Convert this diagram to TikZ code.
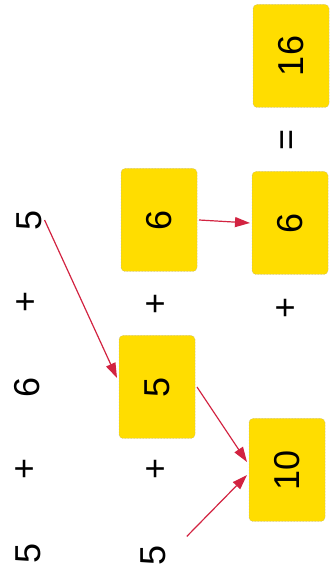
\documentclass[tikz,border=0pt]{standalone}
\usepackage{fontspec}
\setmainfont{Liberation Sans}
\usetikzlibrary{arrows.meta}
\definecolor{cardyellow}{RGB}{255,221,0}
\definecolor{cardedge}{RGB}{185,175,140}
\definecolor{arrred}{RGB}{210,35,65}

\begin{document}
\begin{tikzpicture}[x=1pt, y=1pt,
      every node/.style={font=\fontsize{36}{42}\selectfont, rotate=90},
      card/.style={rectangle, rounded corners=4pt, draw=cardedge, densely dotted,
                   line width=0.5pt, fill=cardyellow, minimum width=103pt,
                   minimum height=76pt, inner sep=0pt, outer sep=2pt},
      num/.style={inner sep=0pt, outer sep=3pt},
      ar/.style={arrred, line width=1.2pt, -{Triangle[length=15pt, width=10pt]}}
    ]
    \useasboundingbox (0,0) rectangle (329,572);
    % first row: 5 + 6 + 5
    \node[num] (n5a) at (29, 352) {5};
    \node[num] (p1) at (27, 270) {+};
    \node[num] (n6) at (27, 185) {6};
    \node[num] (p2) at (26, 103) {+};
    \node[num] (n5b) at (28, 19) {5};
    % second row: 6 + 5 + 5
    \node[card] (c6a) at (159, 352) {6};
    \node[num] (p3) at (157, 268) {+};
    \node[card] (c5) at (157, 185) {5};
    \node[num] (p4) at (157, 103) {+};
    \node[num] (n5c) at (153, 17) {5};
    % third row: 16 = 6 + 10
    \node[card] (c16) at (291, 516) {16};
    \node[num] (eq) at (290, 432) {=};
    \node[card] (c6b) at (290, 349) {6};
    \node[num] (p5) at (287, 264) {+};
    \node[card] (c10) at (287, 102) {10};
    % arrows
    \draw[ar] (n5a.south) -- ([yshift=9pt]c5.north);
    \draw[ar] (c6a.south) -- (c6b.north);
    \draw[ar] (c5.south) -- ([yshift=8pt]c10.north);
    \draw[ar, shorten <=26pt] (n5c.south) -- ([yshift=-5pt]c10.north);
  \end{tikzpicture}
\end{document}
